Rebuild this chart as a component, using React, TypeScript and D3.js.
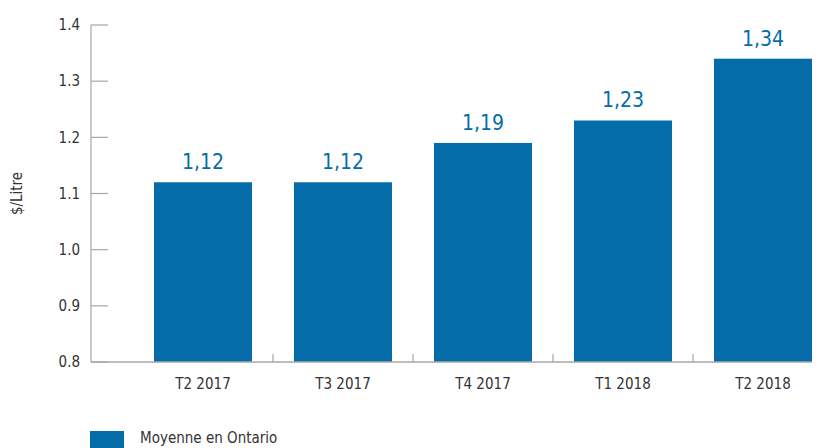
import React, { useEffect, useRef } from 'react'
import * as d3 from 'd3';

const categories = ["T2 2017", "T3 2017", "T4 2017", "T1 2018", "T2 2018"];
const values = [1.12, 1.12, 1.19, 1.23, 1.34];
const yTicks = [0.8, 0.9, 1.0, 1.1, 1.2, 1.3, 1.4];
const seriesName = "Moyenne en Ontario";

const W = 820;
const H = 448;
const BLUE = "#046ca8";
const GREY = "#a7a7a9";
const FONT = "'Liberation Sans Narrow', 'DejaVu Sans Condensed', 'Roboto', sans-serif";

const App = () => {
    const svgRef = useRef<SVGSVGElement>(null);

    useEffect(() => {
      const svg = d3.select(svgRef.current);
      svg.selectAll("*").remove();

      const x = d3.scaleBand()
          .domain(categories)
          .range([133, 833])
          .paddingInner(0.3)
          .paddingOuter(0.15);
      const y = d3.scaleLinear().domain([0.8, 1.4]).range([362, 25]);
      const axisX = 91;

      // y axis line and ticks (ticks point right)
      svg.append("line")
          .attr("x1", axisX).attr("x2", axisX)
          .attr("y1", y(1.4)).attr("y2", y(0.8))
          .attr("stroke", GREY).attr("stroke-width", 1.2);
      svg.append("g").selectAll("line")
        .data(yTicks)
        .join("line")
          .attr("x1", axisX).attr("x2", 108)
          .attr("y1", d => y(d)).attr("y2", d => y(d))
          .attr("stroke", GREY).attr("stroke-width", 1.2);
      svg.append("g").selectAll("text")
        .data(yTicks)
        .join("text")
          .attr("x", 80).attr("y", d => y(d))
          .attr("dy", "0.35em")
          .attr("text-anchor", "end")
          .attr("fill", "#333")
          .style("font", `15px ${FONT}`)
          .text(d => d3.format(".1f")(d));

      svg.append("text")
          .attr("transform", `translate(22,${y(1.1)}) rotate(-90)`)
          .attr("text-anchor", "middle")
          .attr("fill", "#333")
          .style("font", `15px ${FONT}`)
          .text("$/Litre");

      // bars
      svg.append("g").selectAll("rect")
        .data(values)
        .join("rect")
          .attr("x", (d, i) => x(categories[i]))
          .attr("width", x.bandwidth())
          .attr("y", d => y(d))
          .attr("height", d => y(0.8) - y(d))
          .attr("fill", BLUE);

      // x axis line and separator ticks
      const lastX = x(categories[categories.length - 1]) + x.bandwidth();
      svg.append("line")
          .attr("x1", axisX).attr("x2", lastX)
          .attr("y1", y(0.8)).attr("y2", y(0.8))
          .attr("stroke", GREY).attr("stroke-width", 1.5);
      svg.append("g").selectAll("line")
        .data(categories.slice(1))
        .join("line")
          .attr("x1", d => x(d) - x.step() * x.paddingInner() / 2)
          .attr("x2", d => x(d) - x.step() * x.paddingInner() / 2)
          .attr("y1", y(0.8) - 8).attr("y2", y(0.8))
          .attr("stroke", GREY).attr("stroke-width", 1.2);

      svg.append("g").selectAll("text")
        .data(categories)
        .join("text")
          .attr("x", d => x(d) + x.bandwidth() / 2)
          .attr("y", 389)
          .attr("text-anchor", "middle")
          .attr("fill", "#333")
          .style("font", `15px ${FONT}`)
          .text(d => d);

      // value labels
      svg.append("g").selectAll("text")
        .data(values)
        .join("text")
          .attr("x", (d, i) => x(categories[i]) + x.bandwidth() / 2)
          .attr("y", d => y(d) - 13)
          .attr("text-anchor", "middle")
          .attr("fill", BLUE)
          .style("font", `21px ${FONT}`)
          .text(d => d3.format(".2f")(d).replace(".", ","));

      // legend
      svg.append("rect")
          .attr("x", 90).attr("y", 431)
          .attr("width", 34).attr("height", 20)
          .attr("fill", BLUE);
      svg.append("text")
          .attr("x", 140).attr("y", 443)
          .attr("fill", "#333")
          .style("font", `15px ${FONT}`)
          .text(seriesName);
    }, []);

    return (
        <svg width={W} height={H} ref={svgRef}
             style={{ position: "absolute", left: 0, top: 0, background: "#fff" }} />
    );
}

export default App;
